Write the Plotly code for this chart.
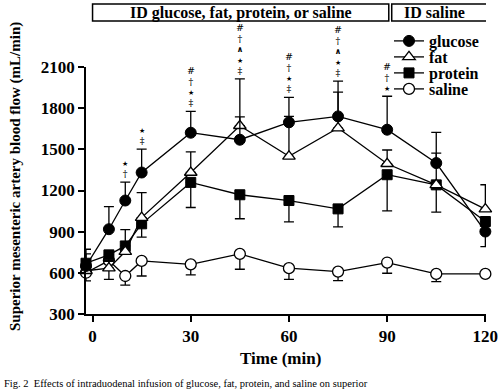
import plotly.graph_objects as go

# ---------------- data ----------------
times = [-2, 5, 10, 15, 30, 45, 60, 75, 90, 105, 120]
glucose = [650, 918, 1127, 1331, 1621, 1570, 1697, 1740, 1643, 1400, 901]
glucose_up = [122, 165, 134, 171, 156, 166, 182, 257, 244, 224, 0]
glucose_dn = [0, 0, 0, 0, 0, 0, 0, 0, 0, 0, 110]
fat = [615, 634, 755, 1003, 1331, 1672, 1449, 1655, 1395, 1241, 1064]
fat_up = [123, 50, 160, 182, 150, 341, 291, 262, 100, 232, 178]
fat_dn = [0, 0, 0, 0, 0, 0, 0, 0, 0, 0, 0]
protein = [670, 731, 796, 957, 1259, 1169, 1127, 1066, 1315, 1241, 974]
protein_up = [0, 0, 0, 0, 0, 0, 0, 0, 0, 0, 0]
protein_dn = [40, 40, 40, 97, 183, 175, 155, 131, 263, 198, 60]
saline = [601, 689, 577, 687, 662, 738, 634, 609, 675, 592, 592]
saline_up = [0, 0, 0, 0, 0, 0, 0, 0, 0, 0, 0]
saline_dn = [60, 136, 67, 110, 77, 112, 81, 66, 78, 56, 0]

x_ticks = [0, 30, 60, 90, 120]
y_ticks = [300, 600, 900, 1200, 1500, 1800, 2100]

# significance symbols (top to bottom) per time point
sig_times = [10, 15, 30, 45, 60, 75, 90]
sig_labels = [
    ["★", "†"],
    ["★", "‡"],
    ["#", "†", "★", "‡"],
    ["#", "†", "∧", "★", "‡"],
    ["#", "†", "★", "‡"],
    ["#", "†", "∧", "★", "‡"],
    ["#", "†", "★"],
]

period_labels = ["ID glucose, fat, protein, or saline", "ID saline"]
period_spans = [(0, 90.5), (91.4, 121.5)]

caption = ("Fig. 2  Effects of intraduodenal infusion of glucose, fat, protein, "
           "and saline on superior")

# ---------------- layout geometry ----------------
W, H = 500, 391
L, R, T, B = 86, 486, 67, 314  # plot area pixel box
SERIF = "Liberation Serif, Times New Roman, serif"


def px_x(px):
    return (px - L) / (R - L)


def px_y(py):
    return (B - py) / (B - T)


fig = go.Figure()

series = [
    ("saline", saline, saline_up, saline_dn,
     dict(symbol="circle", size=11, color="white", line=dict(color="black", width=1.3)), "legend4", 89),
    ("protein", protein, protein_up, protein_dn,
     dict(symbol="square", size=10, color="black", line=dict(color="black", width=1)), "legend3", 73),
    ("fat", fat, fat_up, fat_dn,
     dict(symbol="triangle-up", size=11, color="white", line=dict(color="black", width=1.3)), "legend2", 57),
    ("glucose", glucose, glucose_up, glucose_dn,
     dict(symbol="circle", size=11, color="black", line=dict(color="black", width=1)), "legend", 41),
]

legend_layouts = {}
for name, vals, up, dn, mk, lg, row_py in series:
    fig.add_trace(go.Scatter(
        x=times, y=vals, name=name, mode="lines+markers",
        line=dict(color="black", width=1.3),
        marker=mk,
        error_y=dict(type="data", symmetric=False, array=up, arrayminus=dn,
                     color="black", thickness=1.3, width=5),
        cliponaxis=False,
        legend=lg,
    ))
    legend_layouts[lg] = dict(
        xref="container", yref="container",
        x=389 / W, y=1 - row_py / H, xanchor="left", yanchor="middle",
        bgcolor="rgba(0,0,0,0)", borderwidth=0,
        font=dict(family=SERIF, size=16, color="black", weight="bold"),
        itemwidth=30, tracegroupgap=0,
    )

annotations = []
# significance symbol stacks above the highest cap at each time
for t, labels in zip(sig_times, sig_labels):
    i = times.index(t)
    cap = max(glucose[i] + glucose_up[i], fat[i] + fat_up[i],
              protein[i] + protein_up[i], saline[i] + saline_up[i])
    parts = []
    for s in labels:
        if s == "★":
            parts.append('<span style="font-size:7px">%s</span>' % s)
        elif s == "∧":
            parts.append('<span style="font-size:8px"><b>%s</b></span>' % s)
        else:
            parts.append('<span style="font-size:9.5px">%s</span>' % s)
    annotations.append(dict(
        x=t, y=cap, xref="x", yref="y", text="<br>".join(parts), showarrow=False,
        yanchor="bottom", xanchor="center", yshift=1,
        font=dict(family="DejaVu Serif", size=8.2, color="black"),
    ))

# period boxes at top
shapes = []
for (x0, x1), lab in zip(period_spans, period_labels):
    shapes.append(dict(type="rect", xref="x", yref="paper", x0=x0, x1=x1,
                       y0=px_y(21), y1=px_y(4), line=dict(color="black", width=1.5),
                       fillcolor="white", layer="above"))
    annotations.append(dict(x=(x0 + x1) / 2 - (2 if lab == "ID saline" else 0), y=px_y(12.5),
                            xref="x", yref="paper", text="<b>%s</b>" % lab,
                            showarrow=False, xanchor="center", yanchor="middle",
                            font=dict(family=SERIF, size=16, color="black")))

# y-axis title
annotations.append(dict(x=px_x(15), y=px_y(177), xref="paper", yref="paper",
                        text="<b>Superior mesenteric artery blood flow (mL/min)</b>",
                        textangle=-90, showarrow=False, xanchor="center", yanchor="middle",
                        font=dict(family=SERIF, size=15, color="black")))
# x-axis title
annotations.append(dict(x=px_x(280), y=px_y(358), xref="paper", yref="paper",
                        text="<b>Time (min)</b>", showarrow=False,
                        xanchor="center", yanchor="middle",
                        font=dict(family=SERIF, size=17, color="black")))
# caption
annotations.append(dict(x=px_x(2), y=px_y(383), xref="paper", yref="paper",
                        text=caption, showarrow=False, xanchor="left", yanchor="middle",
                        font=dict(family=SERIF, size=10.5, color="black")))

axis_common = dict(showline=True, linecolor="black", linewidth=1.5,
                   ticks="outside", ticklen=6, tickwidth=1.5, tickcolor="black",
                   showgrid=False, zeroline=False, automargin=False,
                   tickfont=dict(family=SERIF, size=17, color="black", weight="bold"))

fig.update_layout(
    width=W, height=H,
    margin=dict(l=L, r=W - R, t=T, b=H - B, pad=0, autoexpand=False),
    paper_bgcolor="white", plot_bgcolor="white",
    xaxis=dict(range=[-2, 120.2], tickvals=x_ticks, ticktext=[str(v) for v in x_ticks],
               **axis_common),
    yaxis=dict(range=[300, 2100], tickvals=y_ticks, ticktext=[str(v) for v in y_ticks],
               **axis_common),
    shapes=shapes,
    annotations=annotations,
    showlegend=True,
    **legend_layouts,
)

fig.write_html("out.html", config={"displayModeBar": False},
               post_script="document.body.style.margin='0';document.body.style.overflow='hidden';")
